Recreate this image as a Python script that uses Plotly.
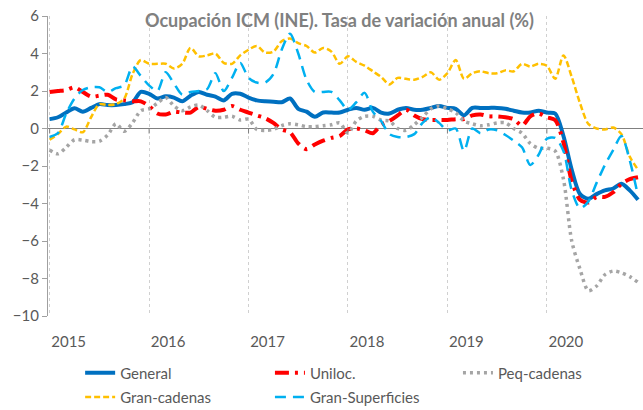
import plotly.graph_objects as go

# monthly data, Jan 2015 .. Dec 2020 (index 0..71)
months = list(range(72))
years = ["2015", "2016", "2017", "2018", "2019", "2020"]

general = [0.5, 0.6, 0.85, 1.08, 0.9, 1.1, 1.3, 1.25, 1.25, 1.3, 1.4, 1.95,
           1.85, 1.6, 1.72, 1.65, 1.45, 1.75, 1.95, 1.8, 1.7, 1.5, 1.85, 1.85,
           1.65, 1.5, 1.45, 1.43, 1.4, 1.6, 1.05, 0.9, 0.63, 0.85, 0.85, 0.85,
           1.0, 1.1, 1.0, 1.1, 0.85, 0.8, 1.0, 1.1, 1.0, 1.0, 1.1, 1.2,
           1.1, 1.05, 0.7, 1.1, 1.1, 1.1, 1.1, 1.05, 0.95, 0.85, 0.85, 0.95,
           0.85, 0.8, -0.4, -2.2, -3.5, -3.75, -3.5, -3.3, -3.2, -2.95, -3.3, -3.8]

uniloc = [1.95, 2.0, 2.05, 2.2, 1.95, 1.7, 1.75, 1.8, 1.55, 1.5, 1.45, 1.45,
          1.2, 0.8, 0.75, 0.9, 0.85, 0.85, 1.15, 1.05, 0.95, 1.0, 1.2, 1.0,
          0.85, 0.7, 0.55, 0.3, -0.05, -0.2, -0.8, -1.1, -0.85, -0.65, -0.5, -0.4,
          -0.05, 0.0, -0.1, -0.25, 0.2, 0.4, 0.7, 1.0, 0.7, 0.5, 0.45, 0.45,
          0.45, 0.5, 0.5, 0.7, 0.75, 0.65, 0.65, 0.6, 0.5, 0.15, 0.65, 0.8,
          0.6, 0.45, -0.75, -2.8, -3.8, -3.95, -3.65, -3.65, -3.4, -2.95, -2.7, -2.6]

peq_cadenas = [-1.15, -1.35, -1.0, -0.6, -0.62, -0.7, -0.68, -0.35, 0.25, -0.15, 0.3, 0.95,
               1.05, 1.35, 1.65, 1.2, 0.95, 1.15, 1.25, 0.95, 0.6, 0.6, 0.65, 0.45,
               0.5, -0.05, -0.1, -0.05, 0.15, 0.25, 0.2, 0.1, 0.1, 0.15, 0.2, 0.3,
               -0.25, 0.4, 0.65, 0.65, 0.45, 0.4, 0.0, -0.1, 0.2, 0.6, 1.05, 1.2,
               1.05, 0.85, 0.4, 0.25, 0.15, 0.2, 0.3, 0.3, 0.0, -0.25, -0.8, -1.05,
               -1.05, -1.2, -2.7, -6.0, -7.5, -8.65, -8.4, -7.8, -7.6, -7.7, -7.9, -8.2]

gran_cadenas = [-0.6, -0.3, 0.1, -0.05, -0.2, 0.6, 1.3, 1.25, 1.3, 1.6, 2.9, 3.65,
                3.45, 3.45, 3.45, 3.2, 3.45, 4.3, 3.85, 3.9, 4.0, 3.5, 3.45, 3.9,
                4.2, 4.4, 4.05, 4.1, 4.65, 4.8, 4.55, 4.4, 4.05, 4.3, 4.1, 3.45,
                3.85, 3.55, 3.35, 3.05, 2.75, 2.35, 2.7, 2.65, 2.6, 2.75, 3.0, 2.6,
                2.95, 3.65, 2.65, 2.95, 3.05, 2.95, 2.95, 3.1, 3.05, 3.45, 3.3, 3.45,
                3.35, 2.65, 3.9, 2.75, 1.35, 0.25, 0.0, -0.05, 0.05, -0.3, -1.5, -2.2]

gran_superficies = [-0.45, -0.25, 0.8, 1.6, 2.05, 2.2, 2.2, 1.95, 2.15, 2.3, 3.3, 2.8,
                    2.3, 2.0, 3.0, 2.4, 1.8, 1.95, 2.0, 2.1, 2.95, 2.0, 2.7, 3.5,
                    2.7, 2.45, 2.45, 2.9, 4.2, 5.05, 4.0, 2.6, 1.95, 1.95, 1.95, 1.5,
                    1.0, 1.4, 1.9, 0.9, 0.4, -0.3, -0.45, -0.45, -0.3, 0.3, 0.6, 0.3,
                    -0.1, 0.0, -1.2, 0.0, -0.25, -0.05, -0.1, -0.35, -0.65, -1.0, -1.95, -1.4,
                    -0.55, -0.5, -1.2, -3.3, -4.25, -3.9, -2.9, -1.95, -1.15, -0.4, -1.7, -3.6]

TEXT = "#595959"
FONT = "Lato, 'Open Sans', sans-serif"

fig = go.Figure()

# name, values, line style, legend id, legend position (x, y in plot fraction)
series = [
    ("General", general, dict(color="#0070C0", width=4, dash="solid"), "legend", (0.054, -0.135)),
    ("Uniloc.", uniloc, dict(color="#FF0000", width=4, dash="14px,6px,3px,6px"), "legend2", (0.373, -0.135)),
    ("Peq-cadenas", peq_cadenas, dict(color="#A5A5A5", width=3.5, dash="3px,4px"), "legend3", (0.689, -0.135)),
    ("Gran-cadenas", gran_cadenas, dict(color="#FFC000", width=2.5, dash="6px,3px"), "legend4", (0.054, -0.216)),
    ("Gran-Superficies", gran_superficies, dict(color="#00B0F0", width=2.5, dash="11px,7px"), "legend5", (0.373, -0.216)),
]

legends = {}
for name, vals, line, leg, (lx, ly) in series:
    fig.add_trace(go.Scatter(
        x=months, y=vals, name=name, mode="lines",
        line=dict(shape="spline", smoothing=0.8, **line),
        legend=leg, showlegend=True,
    ))
    legends[leg] = dict(
        x=lx, y=ly, orientation="h", xref="paper", yref="paper",
        xanchor="left", yanchor="top",
        font=dict(family=FONT, size=15, color=TEXT),
        bgcolor="rgba(0,0,0,0)", itemwidth=30,
    )

# small tick marks on the zero line at each year
for k in range(len(years)):
    fig.add_shape(type="line", xref="x", yref="y", x0=12 * k, x1=12 * k,
                  y0=0, y1=-0.27, line=dict(color="#808080", width=1))

fig.update_layout(
    width=643, height=410,
    showlegend=True,
    margin=dict(l=48, r=0, t=16, b=94, autoexpand=False),
    paper_bgcolor="white", plot_bgcolor="white",
    font=dict(family=FONT, color=TEXT, size=15),
    title=dict(
        text="<b>Ocupación ICM (INE). Tasa de variación anual (%)</b>",
        x=0.528, xanchor="center", y=0.95, yanchor="middle",
        font=dict(family=FONT, size=18, color="#808080"),
    ),
    xaxis=dict(
        range=[-0.2, 71.6],
        tickvals=[12 * k for k in range(len(years))], ticktext=years,
        showgrid=True, gridcolor="#D0D0D0", griddash="dot", gridwidth=1,
        showline=False, zeroline=False, ticks="",
        ticklabelshift=19, ticklabelstandoff=15,
        tickfont=dict(family=FONT, size=15, color=TEXT),
    ),
    yaxis=dict(
        range=[-10, 6], dtick=2, showgrid=False,
        showline=True, linecolor="#A0A0A0", linewidth=1.3,
        ticks="outside", ticklen=5, tickcolor="#A0A0A0",
        zeroline=True, zerolinecolor="#808080", zerolinewidth=1.3,
        tickfont=dict(family=FONT, size=15, color=TEXT),
    ),
    **legends,
)

# drop the browser's default page margin so the figure sits at the top-left corner
fig.write_html("out.html", config={"displayModeBar": False},
               post_script="document.body.style.margin='0';")
